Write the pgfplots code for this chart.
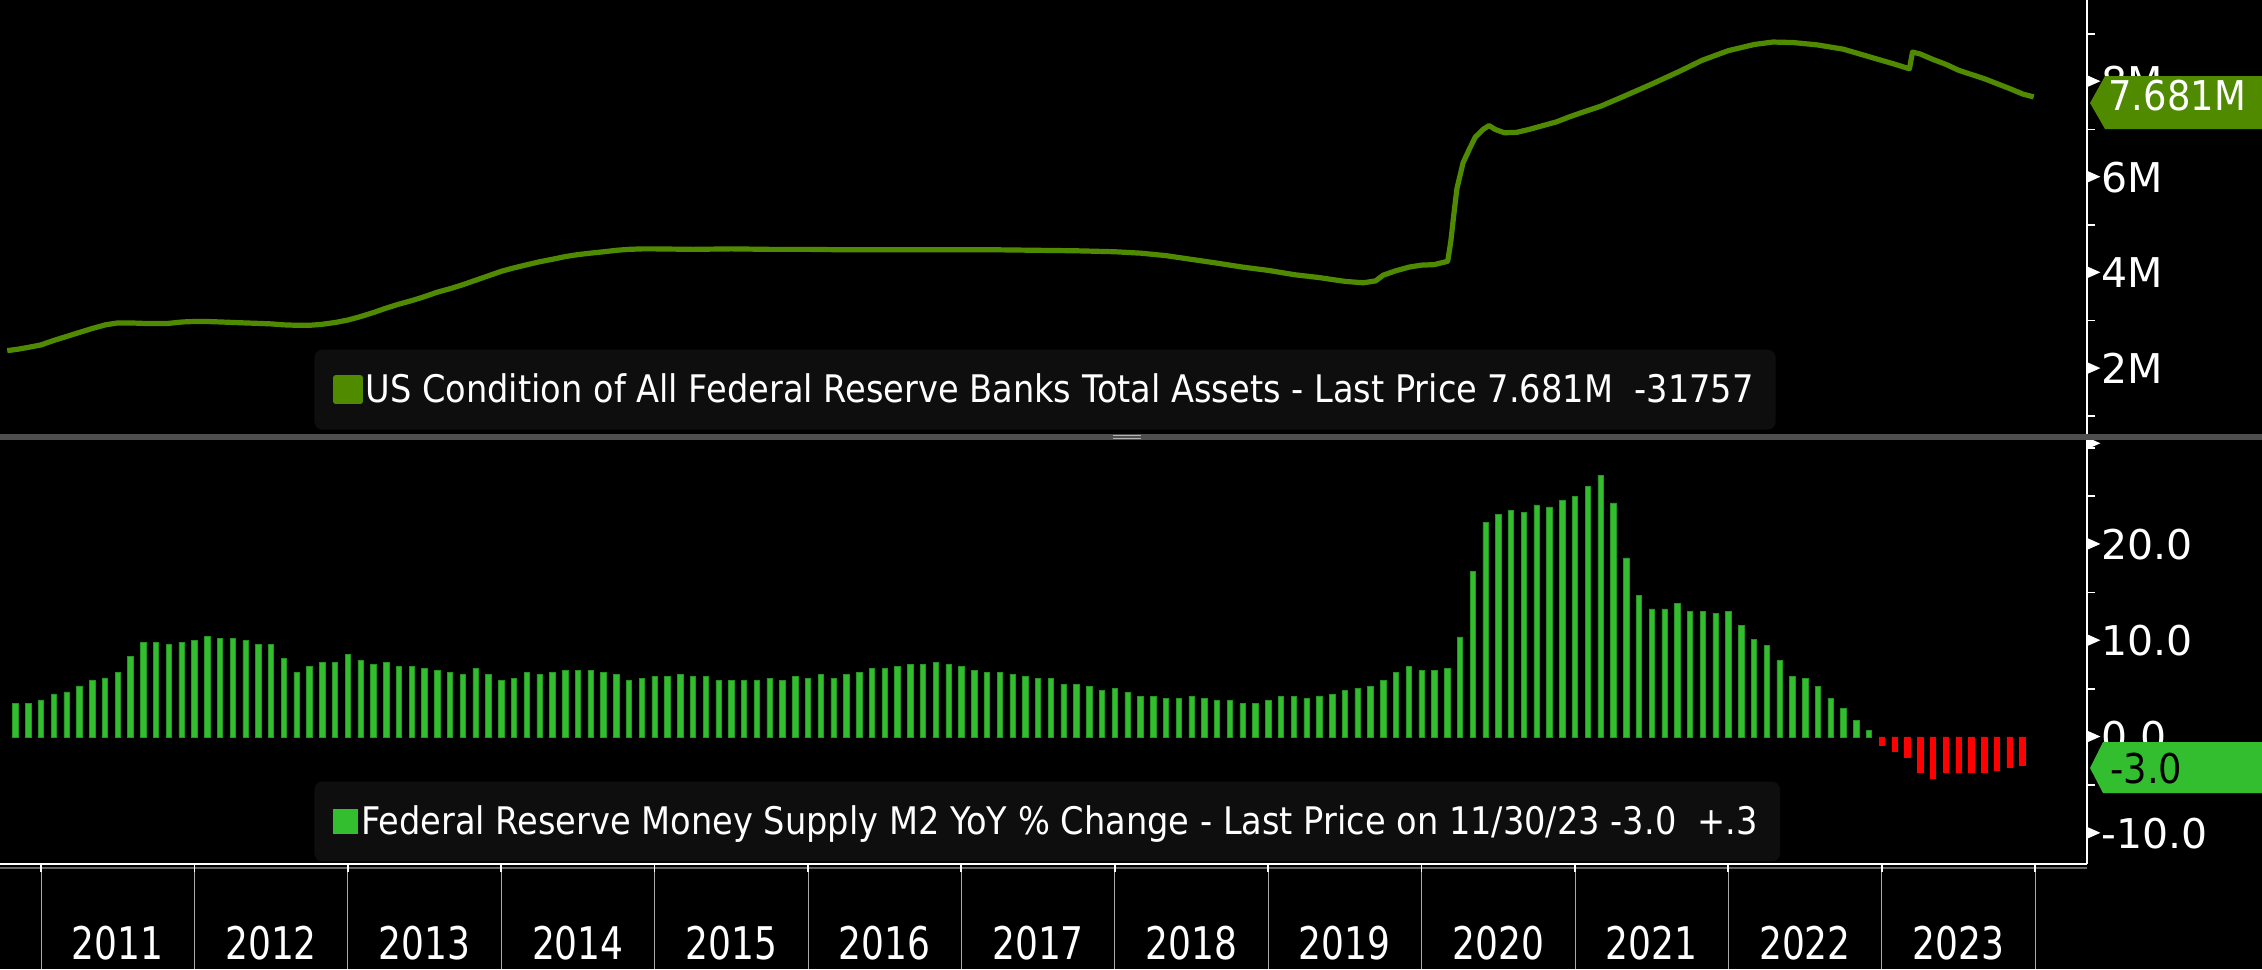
\documentclass[border=0pt]{standalone}
\usepackage{pgfplots}
\pgfplotsset{compat=1.18}
\usepackage{pgfplotstable}
\usepackage{fontspec}
\setmainfont{DejaVu Sans}[FakeStretch=0.885]
\newfontfamily\tickfont{DejaVu Sans}
\newfontfamily\tagfont{DejaVu Sans}[FakeStretch=0.9]
\newfontfamily\yearfont{DejaVu Sans}[FakeStretch=0.8]

\definecolor{assetgreen}{RGB}{80,138,0}
\definecolor{bargreen}{RGB}{51,190,47}
\definecolor{baredge}{RGB}{38,150,34}
\definecolor{barred}{RGB}{255,0,0}
\definecolor{boxgray}{RGB}{14,14,14}
\definecolor{sepgray}{RGB}{78,78,78}
\definecolor{yeargray}{RGB}{170,170,170}

% small white flag used as major tick on the right axis
\newcommand{\tri}{\tikz[baseline=0pt]{\path (0,0); \fill[white] (0,4.8pt) -- (0,10.6pt) -- (6.5pt,7.7pt) -- cycle;}\hspace{0.6pt}}

% M2 YoY % change, monthly (month-end)
\pgfplotstableread{
yr mo v
2010 10 3.45
2010 11 3.45
2010 12 3.86
2011 1 4.48
2011 2 4.69
2011 3 5.31
2011 4 5.93
2011 5 6.14
2011 6 6.72
2011 7 8.38
2011 8 9.79
2011 9 9.79
2011 10 9.59
2011 11 9.79
2011 12 10.0
2012 1 10.41
2012 2 10.2
2012 3 10.2
2012 4 10.0
2012 5 9.59
2012 6 9.59
2012 7 8.17
2012 8 6.72
2012 9 7.34
2012 10 7.76
2012 11 7.76
2012 12 8.59
2013 1 7.97
2013 2 7.55
2013 3 7.76
2013 4 7.34
2013 5 7.34
2013 6 7.14
2013 7 6.93
2013 8 6.72
2013 9 6.52
2013 10 7.14
2013 11 6.52
2013 12 5.90
2014 1 6.10
2014 2 6.72
2014 3 6.52
2014 4 6.72
2014 5 6.93
2014 6 6.93
2014 7 6.93
2014 8 6.72
2014 9 6.52
2014 10 5.90
2014 11 6.10
2014 12 6.31
2015 1 6.31
2015 2 6.52
2015 3 6.31
2015 4 6.31
2015 5 5.90
2015 6 5.90
2015 7 5.90
2015 8 5.90
2015 9 6.10
2015 10 5.90
2015 11 6.31
2015 12 6.10
2016 1 6.52
2016 2 6.10
2016 3 6.52
2016 4 6.72
2016 5 7.14
2016 6 7.14
2016 7 7.34
2016 8 7.55
2016 9 7.55
2016 10 7.76
2016 11 7.55
2016 12 7.34
2017 1 6.93
2017 2 6.72
2017 3 6.72
2017 4 6.52
2017 5 6.31
2017 6 6.10
2017 7 6.10
2017 8 5.48
2017 9 5.48
2017 10 5.28
2017 11 4.86
2017 12 5.07
2018 1 4.66
2018 2 4.24
2018 3 4.24
2018 4 4.03
2018 5 4.03
2018 6 4.24
2018 7 4.03
2018 8 3.83
2018 9 3.83
2018 10 3.45
2018 11 3.45
2018 12 3.83
2019 1 4.24
2019 2 4.24
2019 3 4.03
2019 4 4.26
2019 5 4.45
2019 6 4.86
2019 7 5.07
2019 8 5.28
2019 9 5.90
2019 10 6.70
2019 11 7.32
2019 12 6.92
2020 1 6.92
2020 2 7.12
2020 3 10.4
2020 4 17.2
2020 5 22.3
2020 6 23.1
2020 7 23.5
2020 8 23.3
2020 9 24.1
2020 10 23.9
2020 11 24.55
2020 12 25.0
2021 1 26.0
2021 2 27.2
2021 3 24.3
2021 4 18.6
2021 5 14.7
2021 6 13.3
2021 7 13.3
2021 8 13.9
2021 9 13.07
2021 10 13.07
2021 11 12.86
2021 12 13.07
2022 1 11.62
2022 2 10.17
2022 3 9.55
2022 4 7.93
2022 5 6.28
2022 6 6.07
2022 7 5.24
2022 8 4.03
2022 9 3.0
2022 10 1.76
2022 11 0.72
2022 12 -0.83
2023 1 -1.45
2023 2 -2.07
2023 3 -3.69
2023 4 -4.31
2023 5 -3.69
2023 6 -3.69
2023 7 -3.69
2023 8 -3.69
2023 9 -3.48
2023 10 -3.10
2023 11 -2.90
}\mtwo

% Fed total assets (M)
\pgfplotstableread{
t v
2010.78 2.37
2010.85 2.40
2010.92 2.44
2011.00 2.49
2011.08 2.58
2011.17 2.67
2011.25 2.75
2011.33 2.83
2011.42 2.91
2011.50 2.95
2011.58 2.95
2011.67 2.94
2011.75 2.94
2011.83 2.94
2011.92 2.97
2012.00 2.98
2012.08 2.98
2012.17 2.97
2012.25 2.96
2012.33 2.95
2012.42 2.94
2012.50 2.93
2012.58 2.91
2012.67 2.90
2012.75 2.90
2012.83 2.92
2012.92 2.96
2013.00 3.01
2013.08 3.08
2013.17 3.17
2013.25 3.26
2013.33 3.34
2013.42 3.42
2013.50 3.50
2013.58 3.59
2013.67 3.67
2013.75 3.75
2013.83 3.84
2013.92 3.94
2014.00 4.03
2014.08 4.10
2014.17 4.17
2014.25 4.23
2014.33 4.28
2014.42 4.34
2014.50 4.38
2014.58 4.41
2014.67 4.44
2014.75 4.47
2014.83 4.49
2014.92 4.50
2015.00 4.50
2015.25 4.49
2015.50 4.50
2015.75 4.49
2016.00 4.49
2016.25 4.48
2016.50 4.48
2016.75 4.48
2017.00 4.48
2017.25 4.48
2017.50 4.47
2017.75 4.46
2018.00 4.44
2018.17 4.41
2018.33 4.36
2018.50 4.28
2018.67 4.20
2018.83 4.12
2019.00 4.05
2019.17 3.96
2019.33 3.90
2019.50 3.82
2019.62 3.79
2019.70 3.83
2019.75 3.95
2019.83 4.04
2019.92 4.12
2020.00 4.16
2020.08 4.17
2020.17 4.24
2020.19 4.65
2020.21 5.22
2020.23 5.76
2020.27 6.30
2020.31 6.58
2020.35 6.84
2020.40 7.00
2020.44 7.08
2020.48 7.00
2020.54 6.93
2020.62 6.94
2020.70 7.00
2020.79 7.08
2020.88 7.16
2020.96 7.26
2021.04 7.35
2021.17 7.49
2021.33 7.71
2021.50 7.95
2021.67 8.20
2021.83 8.45
2022.00 8.65
2022.17 8.78
2022.29 8.83
2022.42 8.82
2022.58 8.77
2022.75 8.68
2022.92 8.52
2023.08 8.37
2023.18 8.27
2023.20 8.62
2023.25 8.58
2023.33 8.47
2023.42 8.36
2023.50 8.24
2023.67 8.06
2023.83 7.86
2023.92 7.74
2023.99 7.681
}\assets

\pgfplotsset{
  bbgpanel/.style={
    scale only axis, width=1043.5pt,
    xmin=2010.7327, xmax=2024.3376,
    axis y line*=right,
    axis line style={white, line width=0.85pt},
    tick align=outside,
    tick style={white, line width=0.85pt},
    major tick length=4pt, minor tick length=4pt,
    yticklabel style={font=\tickfont\fontsize{20.5}{24}\selectfont, text=white, anchor=west,
      inner sep=0pt, xshift=-4pt},
    legend cell align=left,
    legend style={at={(0.15046,0.016)}, anchor=south west, fill=boxgray, draw=none,
      rounded corners=4pt, text=white, font=\fontsize{19}{22}\selectfont,
      inner xsep=9.5pt, inner ysep=10.5pt, nodes={inner sep=1.5pt}},
  },
}

\begin{document}
\begin{tikzpicture}
\fill[black] (0,0) rectangle (1131pt,-484.5pt);
\begin{scope}[x=0.5pt, y=-0.5pt]
  \draw[white!40!black, line width=0.8pt] (0,868) -- (2087,868);
\end{scope}

% upper panel: total assets
\begin{axis}[bbgpanel,
  at={(0pt,0pt)}, anchor=north west, height=218.5pt,
  ymin=0.562, ymax=9.71,
  axis x line=none,
  ytick={2,4,6,8}, minor ytick={1,3,5,7,9},
  yticklabels={\tri2M,\tri4M,\tri6M,\tri8M},
]
\addplot[assetgreen, line width=2.6pt, line join=round,
  legend image code/.code={\fill[assetgreen, sharp corners] (0pt,-6pt) rectangle (12pt,6pt);}]
  table[x=t, y=v] {\assets};
\addlegendentry{US Condition of All Federal Reserve Banks Total Assets - Last Price 7.681M\ \ -31757}
\end{axis}

% lower panel: M2 YoY
\begin{axis}[bbgpanel,
  at={(0pt,-218.5pt)}, anchor=north west, height=213.5pt,
  ymin=-13.19, ymax=31.15,
  axis x line*=bottom,
  ytick={-10,0,10,20,30}, minor ytick={-5,5,15,25},
  yticklabels={\tri-10.0,\tri0.0,\tri10.0,\tri20.0,\tri},
  xtick={2011,...,2024}, minor x tick num=3,
  xticklabels={2011,2012,2013,2014,2015,2016,2017,2018,2019,2020,2021,2022,2023,{}},
  xticklabel style={font=\yearfont\fontsize{22.5}{26}\selectfont, text=white,
    anchor=center, xshift=38.35pt, yshift=-35.5pt},
  legend style={at={(0.15046,0.005)}},
]
\addplot[ybar, bar width=2.7pt, bar shift=0pt, fill=bargreen, draw=baredge, line width=0.3pt,
  restrict y to domain=0:40,
  legend image code/.code={\fill[bargreen, sharp corners] (0pt,-6pt) rectangle (12pt,6pt);}]
  table[x expr=\thisrow{yr}+\thisrow{mo}/12, y=v] {\mtwo};
\addlegendentry{Federal Reserve Money Supply M2 YoY \% Change - Last Price on 11/30/23 -3.0\ \ +.3}
\addplot[ybar, bar width=2.7pt, bar shift=0pt, fill=barred, draw=barred, line width=0.3pt,
  restrict y to domain=-40:0, forget plot]
  table[x expr=\thisrow{yr}+\thisrow{mo}/12, y=v] {\mtwo};
\end{axis}

% decorations in image pixels (origin top left)
\begin{scope}[x=0.5pt, y=-0.5pt]
  \fill[sepgray] (0,434) rectangle (2262,440);
  \draw[white!70!black, line width=0.6pt] (1113,435.5) -- (1141,435.5) (1113,438.5) -- (1141,438.5);
  \foreach \k in {0,...,13}
    \draw[yeargray, line width=0.5pt] ({41+153.4*\k},872) -- ({41+153.4*\k},969);
  \fill[assetgreen] (2090,103) -- (2105,76) -- (2262,76) -- (2262,129) -- (2105,129) -- cycle;
  \node[anchor=base west, inner sep=0pt, text=white, font=\tagfont\fontsize{20.5}{24}\selectfont] at (2108,110) {7.681M};
  \fill[bargreen] (2090,768) -- (2103,742) -- (2262,742) -- (2262,793) -- (2103,793) -- cycle;
  \node[anchor=base west, inner sep=0pt, text=black, font=\tagfont\fontsize{20.5}{24}\selectfont] at (2110,783) {-3.0};
\end{scope}

\pgfresetboundingbox
\useasboundingbox (0,0) rectangle (1131pt,-484.5pt);
\end{tikzpicture}
\end{document}
